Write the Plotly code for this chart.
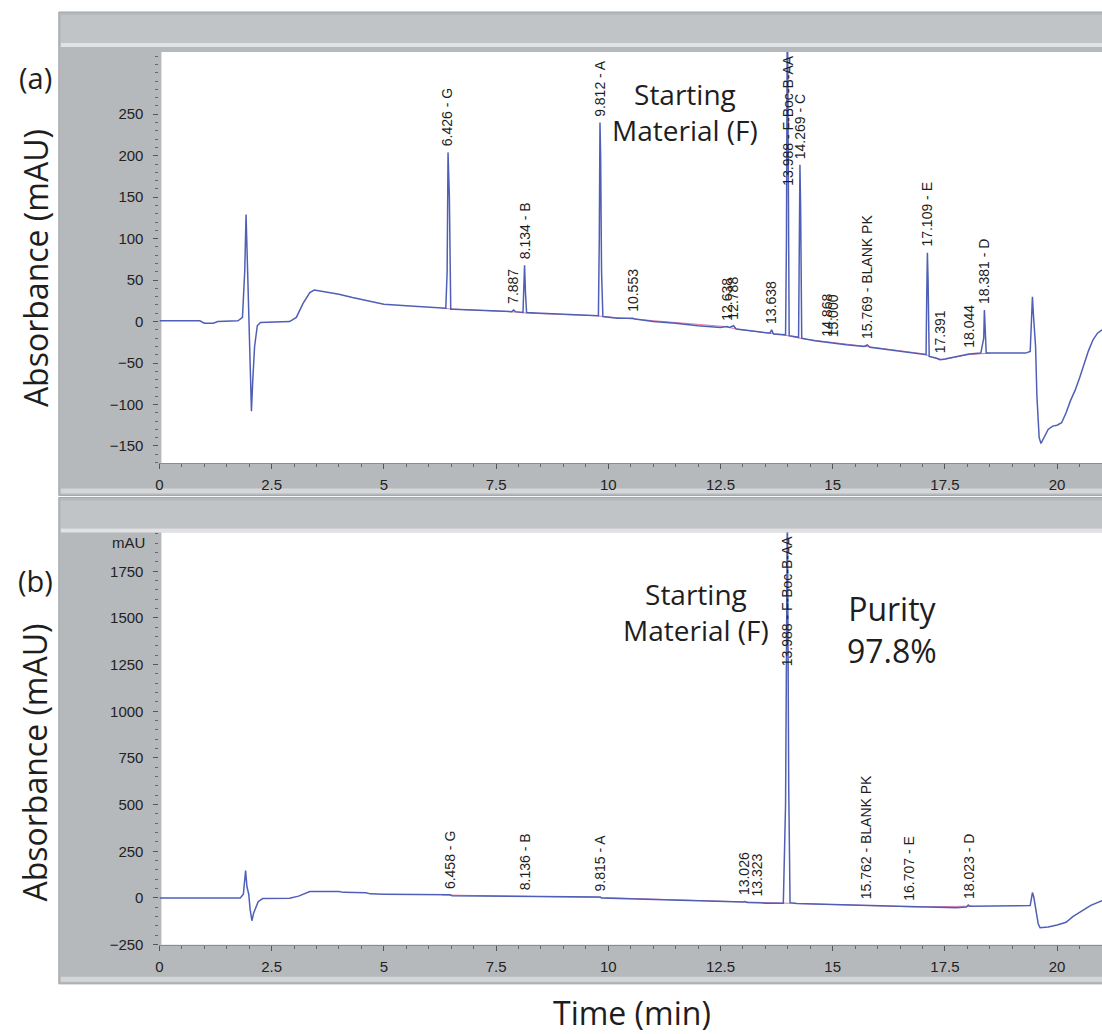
import numpy as np
import plotly.graph_objects as go

# ---------------- data ----------------
# Panel (a): chromatogram trace, time (min) and absorbance (mAU)
top_time = [0.0, 0.9, 1.0, 1.2, 1.3, 1.75, 1.85, 1.9, 1.93, 1.95, 1.98, 2.0, 2.03, 2.05, 2.08, 2.12,
            2.18, 2.25, 2.9, 3.05, 3.2, 3.35, 3.45, 3.7, 4.0, 4.3, 4.7, 5.0, 5.5, 6.0, 6.38, 6.41,
            6.43, 6.46, 6.49, 6.55, 7.0, 7.5, 7.85, 7.89, 7.93, 8.10, 8.12, 8.135, 8.155, 8.18, 8.5,
            9.0, 9.5, 9.78, 9.80, 9.815, 9.83, 9.85, 9.88, 10.2, 10.55, 10.6, 11.0, 11.5, 12.0, 12.5,
            12.64, 12.7, 12.79, 12.85, 13.3, 13.6, 13.64, 13.68, 13.95, 13.97, 13.99, 14.01, 14.03,
            14.24, 14.255, 14.27, 14.285, 14.31, 14.6, 14.87, 15.0, 15.3, 15.7, 15.77, 15.83, 16.5,
            17.0, 17.08, 17.095, 17.11, 17.125, 17.15, 17.3, 17.39, 17.5, 17.8, 18.04, 18.3, 18.365,
            18.38, 18.395, 18.42, 18.8, 19.3, 19.4, 19.43, 19.45, 19.47, 19.52, 19.55, 19.6, 19.64,
            19.7, 19.8, 19.9, 20.0, 20.1, 20.2, 20.3, 20.4, 20.5, 20.6, 20.7, 20.8, 20.9, 21.0]
top_abs = [1, 1, -2, -2, 0, 1, 5, 60, 129, 90, 20, 5, -60, -108, -70, -30,
           -5, -1, 0, 5, 22, 35, 38, 36, 33, 29, 24, 21, 19, 17, 16, 60,
           204, 150, 15, 15, 14, 13, 12, 14, 12, 11, 40, 68, 35, 11, 10,
           9, 8, 7, 100, 240, 200, 60, 6, 4, 4, 3, 0, -2, -5, -7,
           -6, -7, -5, -9, -12, -14, -10, -15, -16, 100, 400, 150, -17,
           -19, 80, 189, 140, -20, -23, -25, -26, -28, -30, -28, -31, -36,
           -39, -40, 30, 83, 50, -42, -44, -46, -45, -42, -39, -38, -20,
           14, -5, -38, -38, -38, -36, 0, 30, 10, -30, -90, -140, -147,
           -140, -130, -126, -125, -122, -110, -95, -83, -68, -50, -35, -22, -14, -10]
top_base_time = [6.3, 6.55, 7.8, 8.25, 9.75, 9.9, 12.6, 12.85, 13.9, 14.35, 15.9, 17.05, 17.2, 17.45, 18.0, 18.5]
top_base_abs = [16, 15, 12, 10, 7, 6, -6, -9, -16, -21, -31, -39, -43, -46, -40, -38]

top_peak_times = [6.426, 7.887, 8.134, 9.812, 10.553, 12.638, 12.788, 13.638, 13.988, 14.269,
                  14.868, 15.000, 15.769, 17.109, 17.391, 18.044, 18.381]
top_peak_names = ["G", "", "B", "A", "", "", "", "", "F-Boc-B-AA", "C",
                  "", "", "BLANK PK", "E", "", "", "D"]
top_ticks = [-150, -100, -50, 0, 50, 100, 150, 200, 250]

# Panel (b)
bot_time = [0.0, 1.8, 1.87, 1.92, 1.95, 1.99, 2.02, 2.06, 2.1, 2.2, 2.3, 2.9, 3.1, 3.35, 4.0, 4.1,
            4.6, 4.7, 5.0, 6.0, 6.44, 6.47, 6.52, 8.12, 8.14, 8.17, 8.7, 9.8, 9.82, 9.85, 11.0,
            12.0, 12.5, 13.0, 13.03, 13.1, 13.33, 13.5, 13.9, 13.95, 13.99, 14.02, 14.05, 14.2,
            15.0, 15.76, 16.0, 16.4, 16.7, 17.0, 17.75, 17.98, 18.02, 18.05, 18.6, 19.4, 19.43,
            19.45, 19.48, 19.52, 19.58, 19.62, 19.8, 20.0, 20.2, 20.35, 20.55, 20.75, 21.0]
bot_abs = [0, 0, 20, 147, 60, 20, -60, -122, -80, -20, -3, -2, 10, 35, 35, 30,
           28, 22, 20, 16, 14, 17, 12, 8, 10, 7, 6, 2, 5, 0, -9,
           -14, -18, -22, -19, -24, -25, -28, -28, 500, 2100, 600, -25, -30,
           -35, -40, -42, -47, -48, -50, -52, -48, -38, -45, -43, -41, 0,
           29, 5, -60, -140, -159, -155, -145, -130, -100, -68, -40, -14]
bot_base_time = [6.3, 9.9, 13.0, 13.9, 14.1, 16.8, 18.1]
bot_base_abs = [16, 2, -21, -27, -28, -48, -44]

bot_peak_times = [6.458, 8.136, 9.815, 13.026, 13.323, 13.988, 15.762, 16.707, 18.023]
bot_peak_names = ["G", "B", "A", "", "", "F-Boc-B-AA", "BLANK PK", "E", "D"]
bot_ticks = [-250, 0, 250, 500, 750, 1000, 1250, 1500, 1750]

top_yrange = [-171, 325]
bot_yrange = [-251, 1958]
x_range = [0, 21.0]

# ---------------- figure ----------------
W, H = 1102, 1034
YS = 0.9914  # vertical correction observed between layout and captured picture


def px(x):
    return x / W


def py(y):
    return 1 - (y / YS) / H


BLUE = "#4f5fb5"
PINK = "#e07aa8"
TXT = "#1e1e1e"
TICKFONT = dict(family="Liberation Sans, Arial", size=15, color="#222")

fig = go.Figure()
fig.add_trace(go.Scatter(x=top_base_time, y=top_base_abs, mode="lines",
                         line=dict(color=PINK, width=1), xaxis="x", yaxis="y"))
fig.add_trace(go.Scatter(x=top_time, y=top_abs, mode="lines",
                         line=dict(color=BLUE, width=1.5), xaxis="x", yaxis="y"))
fig.add_trace(go.Scatter(x=bot_base_time, y=bot_base_abs, mode="lines",
                         line=dict(color=PINK, width=1), xaxis="x2", yaxis="y2"))
fig.add_trace(go.Scatter(x=bot_time, y=bot_abs, mode="lines",
                         line=dict(color=BLUE, width=1.5), xaxis="x2", yaxis="y2"))

X0, X1 = 156, 1102
TOP_Y0, TOP_Y1 = 52, 463
BOT_Y0, BOT_Y1 = 532, 944

common_x = dict(range=x_range, dtick=2.5, tick0=0, ticks="outside", ticklen=5, tickcolor="#555",
                minor=dict(ticks="outside", ticklen=3, dtick=0.5, tickcolor="#666"),
                showgrid=False, zeroline=False, showline=True, linecolor="#8a8d90",
                tickfont=TICKFONT, ticklabelstandoff=3, domain=[px(X0), px(X1)])
common_y = dict(ticks="outside", ticklen=5, tickcolor="#555", showgrid=False, zeroline=False,
                showline=False, tickfont=TICKFONT, ticklabelstandoff=7, tickmode="array")

fig.update_layout(
    width=W, height=H, margin=dict(l=0, r=0, t=0, b=0, pad=0),
    paper_bgcolor="white", plot_bgcolor="white", showlegend=False,
    xaxis=dict(anchor="y", **common_x),
    yaxis=dict(anchor="x", range=top_yrange, tickvals=top_ticks,
               minor=dict(ticks="outside", ticklen=3, dtick=10, tick0=0, tickcolor="#666"),
               domain=[py(TOP_Y1), py(TOP_Y0)], **common_y),
    xaxis2=dict(anchor="y2", **common_x),
    yaxis2=dict(anchor="x2", range=bot_yrange, tickvals=bot_ticks,
                minor=dict(ticks="outside", ticklen=3, dtick=50, tick0=0, tickcolor="#666"),
                domain=[py(BOT_Y1), py(BOT_Y0)], **common_y),
)

# gray instrument frames
shapes = []


def rect(x0, y0, x1, y1, fill, line=None):
    shapes.append(dict(type="rect", xref="paper", yref="paper", layer="below",
                       x0=px(x0), x1=px(x1), y0=py(y1), y1=py(y0), fillcolor=fill,
                       line=dict(width=1 if line else 0, color=line or fill)))


GRAY = "#b6b9bc"
HEAD = "#c1c4c7"
LIGHT = "#e0e2e4"
for (top, bottom) in [(12, 495), (497, 983)]:
    rect(55, top, 1103, bottom, GRAY, "#a2a5a8")
    rect(57, top + 3, 1103, top + 31, HEAD)
    rect(57, top + 31, 1103, top + 35, LIGHT)
    rect(57, bottom - 7, 1103, bottom - 2, "#d4d6d8")
# white plotting areas
rect(X0 + 2, TOP_Y0, 1103, TOP_Y1, "white")
rect(X0 + 2, BOT_Y0, 1103, BOT_Y1, "white")
fig.update_layout(shapes=shapes)

# annotations
ann = []


def label_y(times, vals, t):
    tt = np.asarray(times)
    vv = np.asarray(vals)
    m = np.abs(tt - t) <= 0.035
    if m.any():
        return float(vv[m].max())
    return float(np.interp(t, tt, vv))


LABFONT = dict(family="Liberation Sans, Arial", size=14, color=TXT)


def peak_labels(ptimes, pnames, times, vals, xref, yref, yr):
    for t, n in zip(ptimes, pnames):
        text = f"{t:.3f} - {n}" if n else f"{t:.3f}"
        y = label_y(times, vals, t)
        if y >= yr[1]:
            ann.append(dict(x=t, y=yr[1], xref=xref, yref=yref, text=text, textangle=-90,
                            showarrow=False, xanchor="center", yanchor="top", yshift=-1,
                            font=LABFONT))
        else:
            ann.append(dict(x=t, y=y, xref=xref, yref=yref, text=text, textangle=-90,
                            showarrow=False, xanchor="center", yanchor="bottom", yshift=4,
                            font=LABFONT))


peak_labels(top_peak_times, top_peak_names, top_time, top_abs, "x", "y", top_yrange)
peak_labels(bot_peak_times, bot_peak_names, bot_time, bot_abs, "x2", "y2", bot_yrange)

BIG = "Open Sans, Noto Sans, sans-serif"


def ptext(text, x, y, size, angle=0):
    ann.append(dict(text=text, x=px(x), y=py(y), xref="paper", yref="paper", showarrow=False,
                    xanchor="center", yanchor="middle", textangle=angle,
                    font=dict(family=BIG, size=size, color=TXT)))


ptext("(a)", 32, 77, 29)
ptext("(b)", 32, 580, 29)
ptext("Absorbance (mAU)", 31, 268, 32, angle=-90)
ptext("Absorbance (mAU)", 31, 762, 32, angle=-90)
ptext("Time (min)", 630, 1012, 32)
ptext("Starting<br>Material (F)", 683, 112, 28)
ptext("Starting<br>Material (F)", 695, 611, 28)
ptext("Purity<br>97.8%", 891, 629, 32)

ann.append(dict(text="mAU", x=px(144), y=1905, xref="paper", yref="y2", showarrow=False,
                xanchor="right", yanchor="middle", font=TICKFONT))

fig.update_layout(annotations=ann)
post = ("document.body.style.margin='0px';"
        "document.body.style.overflow='hidden';"
        "document.documentElement.style.overflow='hidden';")
fig.write_html("out.html", config={"displayModeBar": False}, post_script=post)
